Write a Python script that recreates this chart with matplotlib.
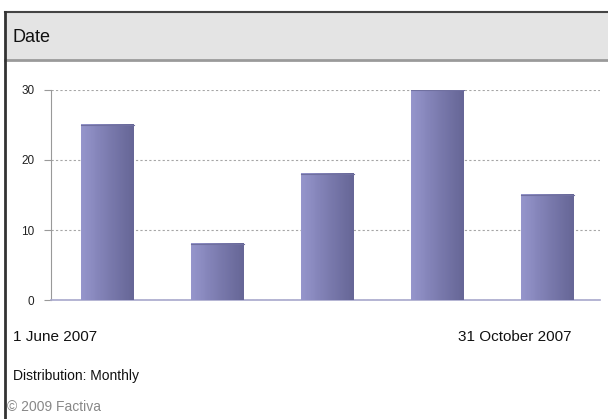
import numpy as np
import matplotlib.pyplot as plt
from matplotlib.patches import Rectangle
from matplotlib.colors import LinearSegmentedColormap

plt.rcParams['font.family'] = ['Liberation Sans', 'DejaVu Sans']

# Monthly article counts, June to October 2007
months = ['Jun', 'Jul', 'Aug', 'Sep', 'Oct']
counts = [25, 8, 18, 30, 15]
yticks = [0, 10, 20, 30]

W, H = 608, 419
fig = plt.figure(figsize=(W / 100, H / 100), dpi=100)
fig.patch.set_facecolor('white')

def px(x, y, w, h):
    # pixel box (from top-left) to figure fraction
    return [x / W, 1 - (y + h) / H, w / W, h / H]

# header band and frame
bg = fig.add_axes([0, 0, 1, 1])
bg.set_xlim(0, W)
bg.set_ylim(H, 0)
bg.axis('off')
bg.add_patch(Rectangle((5, 12), W, 48, facecolor='#e4e4e4', edgecolor='none'))
bg.plot([5, W], [60.5, 60.5], color='#9a9a9a', lw=2)
bg.plot([5, W], [12, 12], color='#444444', lw=1.5)
bg.plot([5, 5], [12, H], color='#333333', lw=2)
bg.text(12, 38, 'Date', fontsize=13, va='center', ha='left', color='#111111')
bg.text(13, 337, '1 June 2007', fontsize=11, va='center', ha='left', color='#111111')
bg.text(572, 337, '31 October 2007', fontsize=11, va='center', ha='right', color='#111111')
bg.text(13, 376, 'Distribution: Monthly', fontsize=10, va='center', ha='left', color='#111111')
bg.text(7, 407, '\u00a9 2009 Factiva', fontsize=10, va='center', ha='left', color='#888888')

ax = fig.add_axes(px(51, 90, 549, 210))
x = np.arange(len(counts))
bars = ax.bar(x, counts, width=0.48, color='none', edgecolor='none', zorder=3)

# horizontal gradient fill, light on the left, darker on the right
cmap = LinearSegmentedColormap.from_list('barfade', ['#9696cc', '#7c7cb0', '#666696'])
grad = np.linspace(0, 1, 64).reshape(1, -1)
for b in bars:
    bx, by = b.get_x(), b.get_y()
    bw, bh = b.get_width(), b.get_height()
    ax.imshow(grad, cmap=cmap, aspect='auto', extent=[bx, bx + bw, by, by + bh],
              zorder=3, interpolation='bilinear')
    ax.plot([bx, bx + bw], [by + bh, by + bh], color='#7070a0', lw=0.8, zorder=4)

ax.set_xlim(-0.515, 4.477)
ax.set_ylim(0, 30)
ax.set_yticks(yticks)
ax.set_xticks([])
ax.yaxis.grid(True, linestyle=(0, (2, 2)), color='#a6a6a6', lw=0.8, zorder=0)
ax.tick_params(axis='y', length=5, color='#999999', labelsize=8.5, pad=7, labelcolor='#222222')
for s in ['top', 'right']:
    ax.spines[s].set_visible(False)
ax.spines['left'].set_color('#999999')
ax.spines['bottom'].set_color('#a8a8cc')
ax.spines['bottom'].set_linewidth(1.2)

fig.savefig('out.png', dpi=100)
